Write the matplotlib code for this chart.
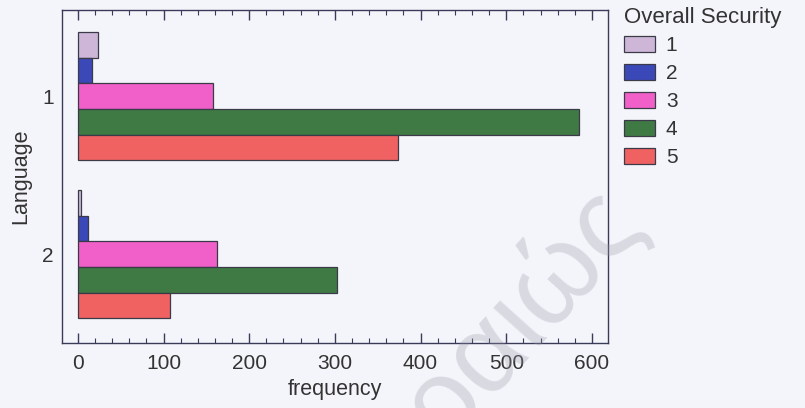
import numpy as np
import matplotlib
matplotlib.use('Agg')
import matplotlib.pyplot as plt
from matplotlib.ticker import MultipleLocator

# frequency of each Overall Security level, per Language group
languages = ['1', '2']
security_levels = ['1', '2', '3', '4', '5']
freq_lang1 = [23, 16, 158, 585, 374]
freq_lang2 = [4, 12, 162, 303, 107]
colors = ['#cdb6d8', '#3a48b8', '#f060c8', '#3f7a44', '#f06262']

plt.rcParams['font.family'] = ['Liberation Sans', 'DejaVu Sans']
bg = '#f4f5fa'
ink = '#333333'

fig = plt.figure(figsize=(8.05, 4.08), dpi=100, facecolor=bg)
ax = fig.add_axes([0.077, 0.159, 0.678, 0.816], facecolor=bg)

data = np.array([freq_lang1, freq_lang2])
y = np.arange(len(languages))
h = 0.162
for i, lvl in enumerate(security_levels):
    off = (i - 2) * h
    ax.barh(y + off, data[:, i], height=h, color=colors[i],
            edgecolor='#3a3a48', linewidth=0.9, label=lvl)

ax.set_xlim(-18.5, 618.5)
ax.set_ylim(1.563, -0.545)
ax.set_yticks(y)
ax.set_yticklabels(languages)
ax.xaxis.set_major_locator(MultipleLocator(100))
ax.xaxis.set_minor_locator(MultipleLocator(20))
ax.tick_params(axis='x', which='both', direction='in', top=True,
               colors='#3a3a5a', labelcolor=ink, labelsize=15, pad=8)
ax.tick_params(axis='x', which='major', length=7, width=1)
ax.tick_params(axis='x', which='minor', length=3.5, width=0.8)
ax.tick_params(axis='y', length=0, labelcolor=ink, labelsize=15, pad=6)
for s in ax.spines.values():
    s.set_color('#3a3a5a')
    s.set_linewidth(1)

ax.set_xlabel('frequency', fontsize=15.5, color=ink, labelpad=4)
ax.set_ylabel('Language', fontsize=15.5, color=ink, labelpad=8)

leg = ax.legend(title='Overall Security', loc='upper left',
                bbox_to_anchor=(1.03, 1.011), frameon=False, fontsize=15,
                title_fontsize=16, handlelength=1.5, handleheight=0.8,
                labelspacing=0.42, handletextpad=0.5, alignment='left',
                borderaxespad=0, borderpad=0)
for t in leg.get_texts():
    t.set_color(ink)
leg.get_title().set_color(ink)

# faint watermark from the scanned source
fig.text(0.80, 0.46, 'Πειραιώς', fontsize=82, color='#9a9aa8', alpha=0.3,
         rotation=48, rotation_mode='anchor', ha='right', va='baseline')

fig.savefig('out.png', dpi=100, facecolor=bg)
